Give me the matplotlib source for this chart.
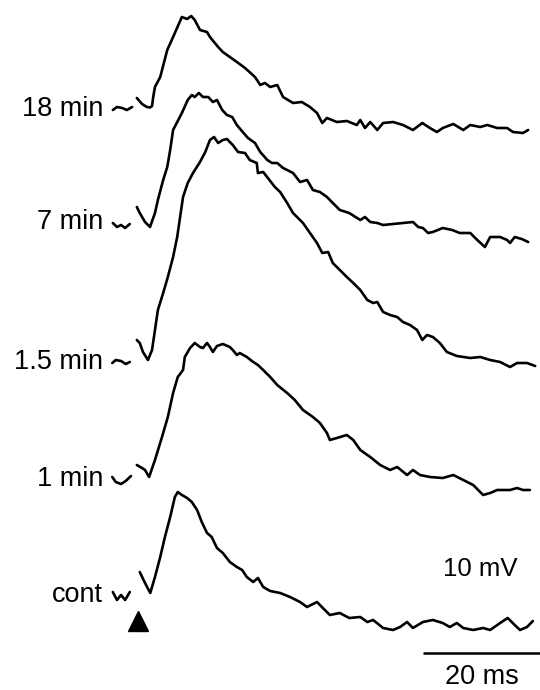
import matplotlib
matplotlib.use("Agg")
import matplotlib.pyplot as plt

plt.rcParams['font.family'] = ['Liberation Sans', 'DejaVu Sans']

# ---- data: time (ms, relative to stimulus) and voltage (mV, relative to baseline) ----
labels = ["18 min", "7 min", "1.5 min", "1 min", "cont"]

# pre-stimulus baseline snippets
pre_t_18 = [-4.3, -3.6, -2.7, -1.9, -1.0]
pre_v_18 = [-0.4, 0.2, 0.0, -0.4, 0.2]
pre_t_7 = [-4.3, -3.6, -2.9, -2.2, -1.4]
pre_v_7 = [0.6, -0.2, 0.2, -0.4, 0.4]
pre_t_15 = [-4.4, -3.8, -2.9, -2.1, -1.4]
pre_v_15 = [-0.2, 0.4, 0.2, -0.4, 0.0]
pre_t_1 = [-4.4, -3.8, -2.9, -2.1, -1.2]
pre_v_1 = [0.6, -0.4, -0.8, -0.2, 0.8]
pre_t_c = [-4.3, -3.6, -2.9, -2.2, -1.4]
pre_v_c = [1.0, -0.6, 0.4, -0.6, 1.0]

t_18 = [-0.2, 0.7, 1.5, 2.05, 2.4, 2.6, 2.9, 3.8, 5.0, 6.0, 7.5, 8.4, 9.1, 9.7, 10.6,
        11.8, 12.3, 13.7, 14.5, 15.7, 16.9, 18.3, 20.0, 20.9, 21.7, 22.6, 23.8, 24.8,
        26.5, 28.0, 29.4, 30.6, 31.5, 32.3, 34.0, 35.7, 37.4, 38.0, 38.8, 39.7, 40.9,
        41.9, 43.6, 45.3, 47.0, 48.6, 49.9, 51.1, 52.1, 53.9, 55.6, 56.8, 58.5, 59.7,
        61.4, 63.1, 64.1, 65.8, 66.7]
v_18 = [2.0, 0.8, 0.2, 0.1, 0.4, 2.2, 4.2, 6.2, 11.6, 14.2, 18.2, 17.8, 18.4, 17.6, 15.6,
        15.2, 14.2, 12.2, 11.2, 10.2, 9.2, 8.0, 6.2, 4.6, 5.0, 4.2, 4.6, 2.2,
        1.0, 1.2, 0.2, -1.0, -3.0, -2.0, -2.8, -2.6, -3.4, -2.4, -4.0, -2.8, -4.4,
        -3.0, -2.8, -3.4, -4.4, -3.0, -4.0, -4.8, -4.0, -3.2, -4.4, -3.4, -3.8, -3.4,
        -4.0, -4.0, -4.8, -5.0, -4.4]

t_7 = [-0.2, 0.3, 1.2, 2.05, 2.9, 3.4, 4.3, 5.0, 5.5, 6.0, 7.5, 8.5, 9.2, 9.7, 10.4, 11.1, 12.0,
       12.8, 13.5, 14.4, 15.2, 16.1, 16.9, 17.9, 18.8, 20.0, 20.9, 22.1, 22.9, 23.8,
       24.8, 25.5, 26.5, 27.7, 28.9, 29.9, 31.1, 32.3, 33.3, 34.5, 36.1, 38.0, 38.8,
       39.7, 40.9, 41.9, 43.6, 45.3, 47.0, 47.9, 48.7, 49.6, 50.4, 52.1, 53.7, 55.0,
       56.8, 58.0, 59.3, 60.2, 61.9, 63.1, 63.6, 64.4, 65.6, 66.7]
v_7 = [3.8, 2.6, 0.8, -0.2, 2.6, 5.2, 9.2, 11.8, 15.2, 19.2, 22.6, 25.2, 26.2, 25.8, 26.6, 25.8, 25.8,
       24.8, 25.2, 23.2, 22.2, 21.8, 20.2, 18.8, 17.6, 16.6, 14.8, 13.2, 12.6, 12.6,
       11.6, 11.2, 10.6, 8.8, 9.2, 7.2, 6.8, 5.8, 4.6, 3.2, 2.6, 1.2, 1.8,
       0.8, 0.6, 0.2, 0.4, 0.6, 0.8, -0.2, -0.4, -1.4, -1.2, -0.4, -0.8, -1.4,
       -1.4, -2.8, -4.2, -2.2, -2.2, -2.8, -3.4, -2.2, -2.6, -3.2]

t_15 = [-0.2, 0.3, 0.85, 1.7, 2.4, 2.9, 3.4, 4.3, 5.1, 6.0, 6.7, 7.2, 7.7, 8.5, 9.4,
        10.6, 11.5, 12.3, 13.0, 13.7, 14.5, 15.2, 16.2, 17.1, 18.3, 19.1,
        20.3, 20.5, 21.4, 22.2, 23.4, 24.3, 25.5, 26.5, 28.2, 29.4, 30.6, 31.5, 32.5,
        33.3, 34.5, 35.7, 36.8, 38.0, 39.2, 40.2, 40.9, 41.9, 43.1, 44.3, 45.3, 46.5,
        47.7, 48.6, 49.4, 50.4, 51.6, 52.8, 54.5, 56.8, 58.5, 60.2, 61.9, 63.6, 64.8,
        66.5, 67.9]
v_15 = [4.4, 3.8, 2.0, 0.4, 2.4, 6.4, 10.4, 13.8, 17.0, 21.0, 25.0, 29.0, 33.0, 35.8, 37.8,
        40.0, 42.0, 44.4, 45.0, 43.8, 44.4, 44.6, 43.4, 42.0, 41.8, 40.4,
        39.8, 37.8, 38.0, 36.8, 35.0, 34.0, 31.8, 29.8, 27.8, 25.8, 23.8, 21.8, 22.0,
        19.8, 18.4, 17.0, 15.8, 14.4, 12.4, 11.8, 12.0, 10.0, 9.4, 9.0, 8.0, 7.4,
        6.4, 4.4, 5.4, 5.0, 3.8, 2.0, 1.2, 0.8, 1.0, 0.4, 0.0, -1.0, -0.2,
        -0.2, -0.8]

t_1 = [-0.2, 0.7, 1.2, 1.9, 2.9, 4.1, 5.1, 6.0, 6.8, 7.7, 8.0, 8.9, 9.7, 10.6, 11.1, 11.8,
       12.3, 12.8, 13.5, 14.5, 15.7, 16.2, 16.9, 17.4, 18.6, 19.7, 20.5, 21.4, 22.6,
       23.8, 25.5, 26.8, 28.2, 29.9, 31.1, 32.3, 32.8, 34.0, 35.7, 36.8, 38.0, 39.7,
       41.4, 43.1, 44.3, 46.0, 47.0, 48.2, 49.9, 52.1, 53.9, 55.6, 57.3, 59.0, 60.2,
       61.4, 63.6, 64.8, 65.8, 67.0]
v_1 = [3.0, 2.4, 2.0, 0.6, 4.0, 8.6, 12.6, 17.4, 20.6, 22.0, 24.6, 26.4, 27.4, 26.6, 26.4, 27.4,
       26.6, 25.6, 26.8, 27.2, 26.6, 26.0, 25.0, 25.4, 24.6, 23.6, 23.0, 22.0, 20.6,
       19.0, 17.4, 16.0, 14.0, 12.6, 11.4, 9.4, 8.0, 8.4, 9.0, 8.0, 6.0, 4.6,
       3.0, 2.0, 2.6, 1.0, 2.0, 1.0, 0.6, 0.4, 1.0, 0.0, -1.0, -3.0, -2.6,
       -2.0, -2.0, -1.6, -2.0, -2.0]

t_c = [0.3, 1.2, 2.1, 2.9, 3.8, 4.6, 5.5, 6.3, 6.8, 7.5, 8.4, 9.2, 10.1, 10.9, 11.8, 12.6,
       13.5, 14.5, 15.7, 16.9, 17.8, 18.6, 19.7, 20.5, 21.4, 22.6, 24.3, 26.0, 27.7,
       28.9, 30.6, 31.6, 32.8, 34.5, 36.1, 38.0, 39.2, 40.2, 41.9, 43.6, 44.8, 46.0,
       47.0, 48.7, 50.4, 52.1, 53.3, 54.5, 55.6, 57.3, 59.0, 60.2, 61.9, 63.2, 64.4,
       65.3, 66.5, 67.5]
v_c = [5.0, 2.8, 0.8, 4.0, 8.0, 12.0, 16.0, 20.0, 21.0, 20.4, 19.8, 19.0, 17.4, 15.0, 12.8, 12.0,
       9.8, 8.8, 7.0, 6.0, 5.4, 4.0, 3.0, 3.8, 2.0, 1.2, 0.8, 0.0, -1.0,
       -2.0, -1.0, -2.2, -3.6, -3.2, -4.2, -4.0, -5.0, -4.6, -6.2, -6.6, -6.0, -5.0,
       -6.2, -5.0, -4.6, -5.2, -6.0, -5.2, -6.2, -6.6, -6.2, -6.6, -5.2, -4.2, -5.6,
       -6.6, -6.0, -4.8]

scale_ms = 20
scale_mV_label = "10 mV"

# ---- layout ----
offsets = [116.4, 92.8, 65.6, 42.0, 18.6]   # vertical stacking (mV)
pre = [(pre_t_18, pre_v_18), (pre_t_7, pre_v_7), (pre_t_15, pre_v_15),
       (pre_t_1, pre_v_1), (pre_t_c, pre_v_c)]
main = [(t_18, v_18), (t_7, v_7), (t_15, v_15), (t_1, v_1), (t_c, v_c)]
label_dy = [-0.2, 0.8, 0.0, 0.3, 0.3]

fig = plt.figure(figsize=(5.4, 6.9), dpi=100)
ax = fig.add_axes([0, 0, 1, 1])
ax.set_xlim(-23.59, 68.72)
ax.set_ylim(0, 138)
ax.axis('off')

lw = 1.9
for lab, off, (pt, pv), (mt, mv), dy in zip(labels, offsets, pre, main, label_dy):
    ax.plot(pt, [v + off for v in pv], color='black', lw=lw, solid_capstyle='round',
            solid_joinstyle='round')
    ax.plot(mt, [v + off for v in mv], color='black', lw=lw, solid_capstyle='round',
            solid_joinstyle='round')
    ax.text(-5.98, off + dy, lab, ha='right', va='center', fontsize=19.5)

# stimulus marker
ax.plot([0], [13.8], marker='^', color='black', markersize=14)

# scale bar
x_end = 68.72
ax.plot([x_end - scale_ms, x_end], [7.4, 7.4], color='black', lw=1.8, solid_capstyle='butt')
ax.text(x_end - scale_ms / 2 + 0.1, 2.6, f"{scale_ms} ms", ha='center', va='center', fontsize=19.5)
ax.text(58.5, 24.2, scale_mV_label, ha='center', va='center', fontsize=18.5)

fig.savefig("out.png", dpi=100)
